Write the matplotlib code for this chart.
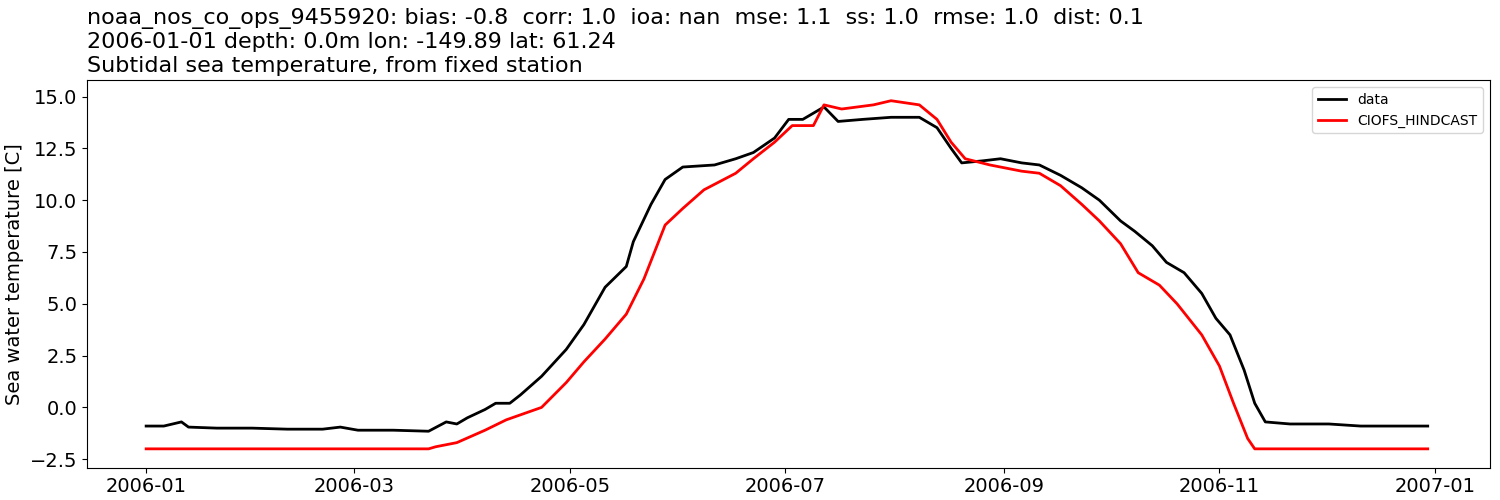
import numpy as np
import matplotlib
matplotlib.use("Agg")
import matplotlib.pyplot as plt
import matplotlib.dates as mdates
import pandas as pd

obs_days = [0,5,10,12,20,30,40,50,55,60,70,80,85,88,91,96,99,103,106,112,119,124,130,136,138,143,147,152,161,167,172,178,182,186,192,196,203,211,219,224,228,231,237,242,248,253,259,265,270,276,280,285,289,294,299,303,307,311,314,317,324,335,344,363]
obs_vals = [-0.9,-0.9,-0.7,-0.95,-1.0,-1.0,-1.05,-1.05,-0.95,-1.1,-1.1,-1.15,-0.7,-0.8,-0.5,-0.1,0.2,0.2,0.6,1.5,2.8,4.0,5.8,6.8,8.0,9.8,11.0,11.6,11.7,12.0,12.3,13.0,13.9,13.9,14.5,13.8,13.9,14.0,14.0,13.5,12.5,11.8,11.9,12.0,11.8,11.7,11.2,10.6,10.0,9.0,8.5,7.8,7.0,6.5,5.5,4.3,3.5,1.8,0.2,-0.7,-0.8,-0.8,-0.9,-0.9]
mod_days = [0,20,40,60,80,82,88,96,102,107,112,119,124,130,136,141,147,152,158,167,172,178,183,189,192,197,206,211,219,224,228,232,239,248,253,259,265,270,276,281,287,292,299,304,308,312,314,340,363]
mod_vals = [-2.0,-2.0,-2.0,-2.0,-2.0,-1.9,-1.7,-1.1,-0.6,-0.3,0.0,1.2,2.2,3.3,4.5,6.2,8.8,9.6,10.5,11.3,12.0,12.8,13.6,13.6,14.6,14.4,14.6,14.8,14.6,13.9,12.8,12.0,11.7,11.4,11.3,10.7,9.8,9.0,7.9,6.5,5.9,5.0,3.5,2.0,0.2,-1.5,-2.0,-2.0,-2.0]

t0 = pd.Timestamp("2006-01-01")
ot = t0 + pd.to_timedelta(obs_days, unit="D")
mt = t0 + pd.to_timedelta(mod_days, unit="D")

plt.rcParams["font.size"] = 14
fig, ax = plt.subplots(figsize=(15, 5), dpi=100)
fig.subplots_adjust(left=0.058, right=0.993, top=0.84, bottom=0.065)
ax.plot(ot, obs_vals, color="black", lw=2, label="data")
ax.plot(mt, mod_vals, color="red", lw=2, label="CIOFS_HINDCAST")
ax.set_ylabel("Sea water temperature [C]")
ax.set_ylim(-2.9, 15.8)
ax.set_yticks([-2.5,0,2.5,5,7.5,10,12.5,15])
ax.set_xlim(pd.Timestamp("2005-12-15 06:00"), pd.Timestamp("2007-01-16 12:00"))
ax.xaxis.set_major_locator(mdates.MonthLocator(bymonth=[1,3,5,7,9,11]))
ax.xaxis.set_major_formatter(mdates.DateFormatter("%Y-%m"))
ax.legend(loc="upper right", fontsize=10)
ax.set_title("noaa_nos_co_ops_9455920: bias: -0.8  corr: 1.0  ioa: nan  mse: 1.1  ss: 1.0  rmse: 1.0  dist: 0.1\n2006-01-01 depth: 0.0m lon: -149.89 lat: 61.24\nSubtidal sea temperature, from fixed station", loc="left", fontsize=16)
fig.savefig("out.png")
